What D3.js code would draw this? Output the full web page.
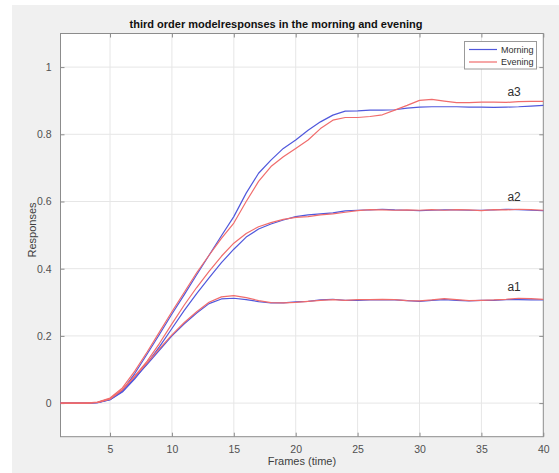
<!DOCTYPE html>
<html>
<head>
<meta charset="utf-8">
<script src="https://cdn.jsdelivr.net/npm/d3@7"></script>
<style>
  html, body { margin: 0; padding: 0; background: #ffffff; }
  svg { display: block; }
  text { font-family: "Liberation Sans", Arial, sans-serif; }
</style>
</head>
<body>
<svg id="chart" width="559" height="473"></svg>
<script>
// Frame index (time axis)
const frames = d3.range(1, 41);

// Morning responses per coefficient
const morningA1 = [0, 0, 0, 0.001, 0.010, 0.035, 0.075, 0.115, 0.158, 0.200,
  0.236, 0.268, 0.296, 0.310, 0.312, 0.308, 0.302, 0.298, 0.298, 0.301,
  0.303, 0.307, 0.309, 0.306, 0.306, 0.307, 0.307, 0.307, 0.305, 0.303,
  0.306, 0.308, 0.306, 0.304, 0.306, 0.306, 0.308, 0.308, 0.307, 0.307];
const morningA2 = [0, 0, 0, 0.001, 0.010, 0.033, 0.072, 0.118, 0.168, 0.222,
  0.276, 0.326, 0.373, 0.418, 0.458, 0.494, 0.518, 0.533, 0.545, 0.555,
  0.560, 0.563, 0.566, 0.572, 0.574, 0.575, 0.577, 0.575, 0.574, 0.573,
  0.574, 0.575, 0.575, 0.574, 0.574, 0.575, 0.577, 0.576, 0.574, 0.573];
const morningA3 = [0, 0, 0, 0.002, 0.012, 0.037, 0.088, 0.146, 0.205, 0.265,
  0.323, 0.382, 0.440, 0.498, 0.555, 0.625, 0.684, 0.723, 0.758, 0.783,
  0.812, 0.837, 0.857, 0.869, 0.870, 0.872, 0.872, 0.873, 0.878, 0.881,
  0.882, 0.882, 0.882, 0.881, 0.881, 0.880, 0.881, 0.882, 0.884, 0.886];

// Evening responses per coefficient
const eveningA1 = [0, 0, 0, 0.002, 0.012, 0.040, 0.080, 0.120, 0.162, 0.203,
  0.240, 0.272, 0.300, 0.316, 0.320, 0.314, 0.305, 0.299, 0.298, 0.300,
  0.303, 0.306, 0.308, 0.306, 0.308, 0.308, 0.309, 0.308, 0.305, 0.304,
  0.307, 0.311, 0.308, 0.305, 0.306, 0.307, 0.309, 0.312, 0.311, 0.309];
const eveningA2 = [0, 0, 0, 0.002, 0.013, 0.040, 0.080, 0.125, 0.178, 0.236,
  0.292, 0.344, 0.392, 0.437, 0.476, 0.505, 0.525, 0.537, 0.547, 0.553,
  0.555, 0.560, 0.563, 0.568, 0.573, 0.576, 0.575, 0.574, 0.575, 0.574,
  0.576, 0.574, 0.576, 0.575, 0.573, 0.576, 0.575, 0.577, 0.576, 0.574];
const eveningA3 = [0, 0, 0, 0.003, 0.015, 0.045, 0.095, 0.152, 0.212, 0.272,
  0.330, 0.388, 0.440, 0.490, 0.536, 0.600, 0.660, 0.704, 0.733, 0.758,
  0.783, 0.817, 0.842, 0.850, 0.850, 0.853, 0.858, 0.872, 0.886, 0.901,
  0.904, 0.899, 0.894, 0.894, 0.896, 0.896, 0.895, 0.897, 0.898, 0.898];

// Tick values and labels
const xTicks = [5, 10, 15, 20, 25, 30, 35, 40];
const yTicks = [0, 0.2, 0.4, 0.6, 0.8, 1];
const curveNames = ["a1", "a2", "a3"];
const seriesNames = ["Morning", "Evening"];

const svg = d3.select("#chart");
const W = 559, H = 473;

// figure background
svg.append("rect").attr("x", 12).attr("y", 5).attr("width", W - 12).attr("height", H - 5)
  .attr("fill", "#f0f0f0");

const pLeft = 60.5, pRight = 543.3, pTop = 33.5, pBottom = 436.7;
const x = d3.scaleLinear().domain([1, 40]).range([pLeft, pRight]);
const y = d3.scaleLinear().domain([-0.1, 1.1]).range([pBottom, pTop]);

// plot area
svg.append("rect").attr("x", pLeft).attr("y", pTop)
  .attr("width", pRight - pLeft).attr("height", pBottom - pTop).attr("fill", "#ffffff");

// grid
const grid = svg.append("g").attr("stroke", "#e6e6e6").attr("stroke-width", 1);
xTicks.filter(t => t < 40).forEach(t => {
  grid.append("line").attr("x1", x(t)).attr("x2", x(t)).attr("y1", pTop).attr("y2", pBottom);
});
yTicks.forEach(t => {
  grid.append("line").attr("x1", pLeft).attr("x2", pRight).attr("y1", y(t)).attr("y2", y(t));
});

// axes with inward ticks on all four sides
const axisColor = "#8c8c8c";
function styleAxis(g) {
  g.select(".domain").remove();
  g.selectAll(".tick line").attr("stroke", axisColor);
  g.selectAll(".tick text").attr("fill", "#505050").attr("font-size", 10.5)
    .attr("font-family", "'Liberation Sans', Arial, sans-serif");
}
svg.append("g").attr("transform", `translate(0,${pBottom})`)
  .call(d3.axisBottom(x).tickValues(xTicks).tickSizeInner(-4).tickSizeOuter(0).tickPadding(9))
  .call(styleAxis);
svg.append("g").attr("transform", `translate(0,${pTop})`)
  .call(d3.axisTop(x).tickValues(xTicks).tickSizeInner(-4).tickSizeOuter(0).tickFormat(""))
  .call(styleAxis);
svg.append("g").attr("transform", `translate(${pLeft},0)`)
  .call(d3.axisLeft(y).tickValues(yTicks).tickSizeInner(-4).tickSizeOuter(0).tickPadding(9)
    .tickFormat(d => d === 0 ? "0" : d === 1 ? "1" : d3.format(".1f")(d)))
  .call(styleAxis);
svg.append("g").attr("transform", `translate(${pRight},0)`)
  .call(d3.axisRight(y).tickValues(yTicks).tickSizeInner(-4).tickSizeOuter(0).tickFormat(""))
  .call(styleAxis);

// box
svg.append("rect").attr("x", pLeft).attr("y", pTop)
  .attr("width", pRight - pLeft).attr("height", pBottom - pTop)
  .attr("fill", "none").attr("stroke", axisColor).attr("stroke-width", 1);

// response curves
const blue = "#5058dc", red = "#f06c6c";
const line = d3.line().x((d, i) => x(frames[i])).y(d => y(d));
const series = [
  { values: morningA1, color: blue },
  { values: morningA2, color: blue },
  { values: morningA3, color: blue },
  { values: eveningA1, color: red },
  { values: eveningA2, color: red },
  { values: eveningA3, color: red }
];
const plot = svg.append("g");
series.forEach(s => {
  plot.append("path").datum(s.values).attr("d", line)
    .attr("fill", "none").attr("stroke", s.color).attr("stroke-width", 1.2)
    .attr("stroke-linejoin", "round");
});

// curve labels
const labelY = [0.334, 0.601, 0.914];
curveNames.forEach((n, i) => {
  svg.append("text").attr("x", x(37.1)).attr("y", y(labelY[i]))
    .attr("font-size", 12).attr("fill", "#303030").text(n);
});

// title and axis labels
svg.append("text").attr("x", 276).attr("y", 28).attr("text-anchor", "middle")
  .attr("font-size", 11).attr("font-weight", "bold").attr("fill", "#111")
  .text("third order modelresponses in the morning and evening");
svg.append("text").attr("x", (pLeft + pRight) / 2).attr("y", 465).attr("text-anchor", "middle")
  .attr("font-size", 11).attr("fill", "#404040").text("Frames (time)");
svg.append("text").attr("transform", `translate(36,230) rotate(-90)`).attr("text-anchor", "middle")
  .attr("font-size", 11).attr("fill", "#404040").text("Responses");

// legend
const lg = svg.append("g");
lg.append("rect").attr("x", 464.5).attr("y", 41.5).attr("width", 72).attr("height", 27.5)
  .attr("fill", "#ffffff").attr("stroke", "#9a9a9a").attr("stroke-width", 1);
seriesNames.forEach((n, i) => {
  const ly = 49.5 + i * 12.5;
  lg.append("line").attr("x1", 469).attr("x2", 497).attr("y1", ly).attr("y2", ly)
    .attr("stroke", i === 0 ? blue : red).attr("stroke-width", 1.2);
  lg.append("text").attr("x", 533.5).attr("y", ly + 3.2).attr("text-anchor", "end")
    .attr("font-size", 9).attr("fill", "#303030").text(n);
});
</script>
</body>
</html>
